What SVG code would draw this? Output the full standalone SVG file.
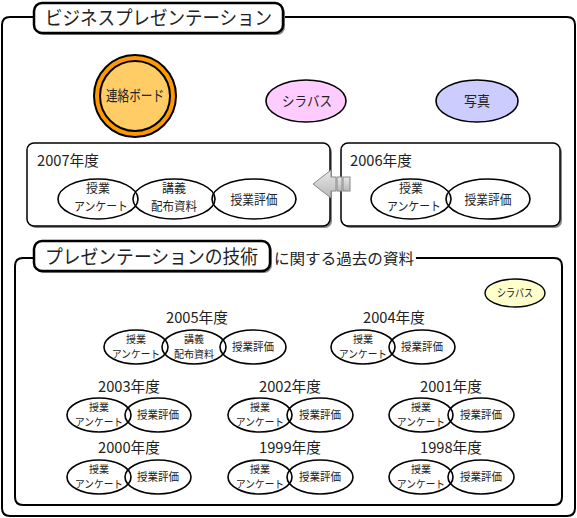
<svg xmlns="http://www.w3.org/2000/svg" width="577" height="518" viewBox="0 0 577 518">
<defs>
<style>
text{font-family:"Noto Sans CJK JP","Noto Sans",sans-serif;fill:#222}
.frame{fill:none;stroke:#000;stroke-width:2}
.tbox{fill:#fff;stroke:#000;stroke-width:2.5}
.box{fill:#fff;stroke:#000;stroke-width:1.5}
.shadow{fill:#888}
.ell{fill:none;stroke:#000;stroke-width:1.6}
.t13{font-size:12px;text-anchor:middle}
.t13s{font-size:13px;text-anchor:middle}
.t11{font-size:10.5px;text-anchor:middle}
.t11s{font-size:11.5px;text-anchor:middle}
.yr{font-size:15px}
.yrc{font-size:15px;text-anchor:middle}
</style>
<linearGradient id="ag" x1="0" y1="0" x2="0" y2="1">
<stop offset="0" stop-color="#e8e8e8"/><stop offset="1" stop-color="#b8b8b8"/>
</linearGradient>
</defs>
<rect width="577" height="518" fill="#fff"/>

<g id="outer-frame">
<path class="frame" d="M34,17 H10 Q2,17 2,25 V508 Q2,516 10,516 H567 Q575,516 575,508 V25 Q575,17 567,17 H283"/>
<rect x="36" y="5" width="249" height="30" rx="8" class="shadow"/>
<rect x="34" y="3" width="249" height="30" rx="8" class="tbox"/>
<text x="45" y="25" style="font-size:19px" textLength="227" lengthAdjust="spacingAndGlyphs">ビジネスプレゼンテーション</text>
</g>

<g id="renraku">
<circle cx="135" cy="96" r="41" fill="#ff9900" stroke="#000" stroke-width="2"/>
<circle cx="135" cy="96" r="35" fill="#ffcc66" stroke="#000" stroke-width="2"/>
<text x="106" y="101" style="font-size:15px" textLength="58" lengthAdjust="spacingAndGlyphs">連絡ボード</text>
</g>

<g id="syllabus">
<ellipse cx="306" cy="101" rx="40" ry="21" fill="#ffccff" stroke="#000" stroke-width="1.6"/>
<text x="282" y="106" style="font-size:14px" textLength="50" lengthAdjust="spacingAndGlyphs">シラバス</text>
</g>

<g id="photo">
<ellipse cx="477" cy="101" rx="41" ry="21" fill="#ccccff" stroke="#000" stroke-width="1.6"/>
<text x="464" y="106" style="font-size:14px" textLength="26" lengthAdjust="spacingAndGlyphs">写真</text>
</g>

<g id="y2007">
<rect x="29" y="145" width="303" height="83" rx="7" class="shadow"/>
<rect x="27" y="143" width="303" height="83" rx="7" class="box"/>
<text x="37" y="166" class="yr" textLength="62" lengthAdjust="spacingAndGlyphs">2007年度</text>
<ellipse cx="98" cy="199" rx="40" ry="20" class="ell"/>
<ellipse cx="174" cy="199" rx="41" ry="20" class="ell"/>
<ellipse cx="254" cy="199" rx="42" ry="20" class="ell"/>
<text x="98" y="192.5" class="t13" textLength="24" lengthAdjust="spacingAndGlyphs">授業</text>
<text x="101" y="210.5" class="t13" textLength="54" lengthAdjust="spacingAndGlyphs">アンケート</text>
<text x="174" y="192.5" class="t13" textLength="24" lengthAdjust="spacingAndGlyphs">講義</text>
<text x="174" y="210.5" class="t13" textLength="46" lengthAdjust="spacingAndGlyphs">配布資料</text>
<text x="254" y="204" class="t13s" textLength="47" lengthAdjust="spacingAndGlyphs">授業評価</text>
</g>

<g id="y2006">
<rect x="343" y="145" width="219" height="83" rx="7" class="shadow"/>
<rect x="341" y="143" width="219" height="83" rx="7" class="box"/>
<text x="350" y="166" class="yr" textLength="62" lengthAdjust="spacingAndGlyphs">2006年度</text>
<ellipse cx="411" cy="199" rx="40" ry="20" class="ell"/>
<ellipse cx="488" cy="199" rx="42" ry="20" class="ell"/>
<text x="411" y="192.5" class="t13" textLength="24" lengthAdjust="spacingAndGlyphs">授業</text>
<text x="414" y="210.5" class="t13" textLength="54" lengthAdjust="spacingAndGlyphs">アンケート</text>
<text x="488" y="204" class="t13s" textLength="47" lengthAdjust="spacingAndGlyphs">授業評価</text>
</g>

<g id="connectors">
<path d="M313,184 L331,170 V177 H336 V191 H331 V198 Z" fill="url(#ag)" stroke="#888" stroke-width="1"/>
<rect x="337" y="177" width="5" height="14" fill="url(#ag)" stroke="#888" stroke-width="1"/>
<rect x="343" y="177" width="7" height="14" fill="url(#ag)" stroke="#888" stroke-width="1"/>
</g>

<g id="past-frame">
<path class="frame" d="M34,258 H23 Q15,258 15,266 V497 Q15,505 23,505 H554 Q562,505 562,497 V266 Q562,258 554,258 H416"/>
<rect x="36" y="243" width="236" height="30" rx="8" class="shadow"/>
<rect x="34" y="241" width="236" height="30" rx="8" class="tbox"/>
<text x="45" y="264" style="font-size:19px" textLength="213" lengthAdjust="spacingAndGlyphs">プレゼンテーションの技術</text>
<text x="274" y="264" style="font-size:15px" textLength="140" lengthAdjust="spacingAndGlyphs">に関する過去の資料</text>
</g>

<g id="syllabus2">
<ellipse cx="515" cy="293" rx="30" ry="14" fill="#ffffcc" stroke="#000" stroke-width="1.4"/>
<text x="515" y="297" style="font-size:11px;text-anchor:middle" textLength="36" lengthAdjust="spacingAndGlyphs">シラバス</text>
</g>

<g id="y2005">
<text x="197" y="323" class="yrc" textLength="62" lengthAdjust="spacingAndGlyphs">2005年度</text>
<ellipse cx="136" cy="347" rx="32" ry="17" class="ell"/>
<ellipse cx="194" cy="347" rx="32" ry="17" class="ell"/>
<ellipse cx="253" cy="347" rx="33" ry="17" class="ell"/>
<text x="136" y="342.5" class="t11" textLength="20" lengthAdjust="spacingAndGlyphs">授業</text>
<text x="136" y="358" class="t11" textLength="48" lengthAdjust="spacingAndGlyphs">アンケート</text>
<text x="194" y="342.5" class="t11" textLength="20" lengthAdjust="spacingAndGlyphs">講義</text>
<text x="194" y="358" class="t11" textLength="40" lengthAdjust="spacingAndGlyphs">配布資料</text>
<text x="253" y="351" class="t11s" textLength="42" lengthAdjust="spacingAndGlyphs">授業評価</text>
</g>

<g id="y2004">
<text x="394" y="323" class="yrc" textLength="62" lengthAdjust="spacingAndGlyphs">2004年度</text>
<ellipse cx="363" cy="347" rx="32" ry="17" class="ell"/>
<ellipse cx="422" cy="347" rx="33" ry="17" class="ell"/>
<text x="363" y="342.5" class="t11" textLength="20" lengthAdjust="spacingAndGlyphs">授業</text>
<text x="363" y="358" class="t11" textLength="48" lengthAdjust="spacingAndGlyphs">アンケート</text>
<text x="422" y="351" class="t11s" textLength="42" lengthAdjust="spacingAndGlyphs">授業評価</text>
</g>

<g id="y2003">
<text x="129" y="392" class="yrc" textLength="62" lengthAdjust="spacingAndGlyphs">2003年度</text>
<ellipse cx="99" cy="415" rx="32" ry="17" class="ell"/>
<ellipse cx="158" cy="415" rx="33" ry="17" class="ell"/>
<text x="99" y="410.5" class="t11" textLength="20" lengthAdjust="spacingAndGlyphs">授業</text>
<text x="99" y="426" class="t11" textLength="48" lengthAdjust="spacingAndGlyphs">アンケート</text>
<text x="158" y="419" class="t11s" textLength="42" lengthAdjust="spacingAndGlyphs">授業評価</text>
</g>

<g id="y2002">
<text x="290" y="392" class="yrc" textLength="62" lengthAdjust="spacingAndGlyphs">2002年度</text>
<ellipse cx="260" cy="415" rx="32" ry="17" class="ell"/>
<ellipse cx="320" cy="415" rx="33" ry="17" class="ell"/>
<text x="260" y="410.5" class="t11" textLength="20" lengthAdjust="spacingAndGlyphs">授業</text>
<text x="260" y="426" class="t11" textLength="48" lengthAdjust="spacingAndGlyphs">アンケート</text>
<text x="320" y="419" class="t11s" textLength="42" lengthAdjust="spacingAndGlyphs">授業評価</text>
</g>

<g id="y2001">
<text x="451" y="392" class="yrc" textLength="62" lengthAdjust="spacingAndGlyphs">2001年度</text>
<ellipse cx="421" cy="415" rx="32" ry="17" class="ell"/>
<ellipse cx="481" cy="415" rx="33" ry="17" class="ell"/>
<text x="421" y="410.5" class="t11" textLength="20" lengthAdjust="spacingAndGlyphs">授業</text>
<text x="421" y="426" class="t11" textLength="48" lengthAdjust="spacingAndGlyphs">アンケート</text>
<text x="481" y="419" class="t11s" textLength="42" lengthAdjust="spacingAndGlyphs">授業評価</text>
</g>

<g id="y2000">
<text x="129" y="453" class="yrc" textLength="62" lengthAdjust="spacingAndGlyphs">2000年度</text>
<ellipse cx="99" cy="477" rx="32" ry="17" class="ell"/>
<ellipse cx="158" cy="477" rx="33" ry="17" class="ell"/>
<text x="99" y="472.5" class="t11" textLength="20" lengthAdjust="spacingAndGlyphs">授業</text>
<text x="99" y="488" class="t11" textLength="48" lengthAdjust="spacingAndGlyphs">アンケート</text>
<text x="158" y="481" class="t11s" textLength="42" lengthAdjust="spacingAndGlyphs">授業評価</text>
</g>

<g id="y1999">
<text x="290" y="453" class="yrc" textLength="62" lengthAdjust="spacingAndGlyphs">1999年度</text>
<ellipse cx="260" cy="477" rx="32" ry="17" class="ell"/>
<ellipse cx="320" cy="477" rx="33" ry="17" class="ell"/>
<text x="260" y="472.5" class="t11" textLength="20" lengthAdjust="spacingAndGlyphs">授業</text>
<text x="260" y="488" class="t11" textLength="48" lengthAdjust="spacingAndGlyphs">アンケート</text>
<text x="320" y="481" class="t11s" textLength="42" lengthAdjust="spacingAndGlyphs">授業評価</text>
</g>

<g id="y1998">
<text x="451" y="453" class="yrc" textLength="62" lengthAdjust="spacingAndGlyphs">1998年度</text>
<ellipse cx="421" cy="477" rx="32" ry="17" class="ell"/>
<ellipse cx="481" cy="477" rx="33" ry="17" class="ell"/>
<text x="421" y="472.5" class="t11" textLength="20" lengthAdjust="spacingAndGlyphs">授業</text>
<text x="421" y="488" class="t11" textLength="48" lengthAdjust="spacingAndGlyphs">アンケート</text>
<text x="481" y="481" class="t11s" textLength="42" lengthAdjust="spacingAndGlyphs">授業評価</text>
</g>
</svg>
